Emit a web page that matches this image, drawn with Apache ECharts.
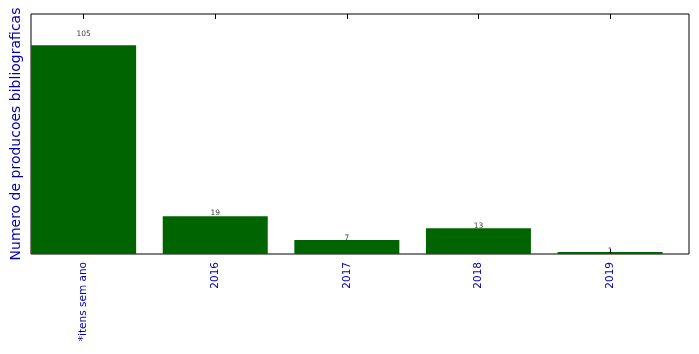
<!DOCTYPE html>
<html>
<head>
<meta charset="utf-8">
<script src="https://cdn.jsdelivr.net/npm/echarts@6/dist/echarts.min.js"></script>
<style>
html,body{margin:0;padding:0;background:#fff;}
#chart{width:699px;height:354px;}
</style>
</head>
<body>
<div id="chart"></div>
<script>
var categories = ['*itens sem ano', '2016', '2017', '2018', '2019'];
var values = [105, 19, 7, 13, 1];
var yTitle = 'Numero de producoes bibliograficas';

var positions = categories.map(function (c, i) { return i; });
var barData = values.map(function (v, i) { return [i, v]; });
var labelData = values.map(function (v, i) { return { value: [i, v * 1.05], raw: v }; });

var blue = '#0000b0';
var chart = echarts.init(document.getElementById('chart'), null, { renderer: 'canvas' });
chart.setOption({
  animation: false,
  textStyle: { fontFamily: 'DejaVu Sans' },
  grid: { left: 31, right: 10, top: 14, bottom: 100, containLabel: false, outerBoundsMode: 'none',
          show: true, borderColor: '#000', borderWidth: 1, backgroundColor: 'transparent' },
  xAxis: [{
    type: 'value', min: -0.4, max: 4.6, position: 'bottom',
    splitLine: { show: false },
    axisLine: { show: false },
    axisTick: { show: true, inside: true, length: 5, customValues: positions, lineStyle: { color: '#000' } },
    axisLabel: {
      show: true, customValues: positions, rotate: 90, margin: 8,
      color: blue, fontSize: 10.5, fontFamily: 'DejaVu Sans',
      formatter: function (v) { return categories[Math.round(v)]; }
    }
  }, {
    type: 'value', min: -0.4, max: 4.6, position: 'top',
    splitLine: { show: false },
    axisLine: { show: false },
    axisTick: { show: true, inside: true, length: 5, customValues: positions, lineStyle: { color: '#000' } },
    axisLabel: { show: false }
  }],
  yAxis: {
    type: 'value', min: 0, max: 105 * 1.15,
    name: yTitle, nameLocation: 'middle', nameGap: 8,
    nameTextStyle: { color: blue, fontSize: 14, fontFamily: 'DejaVu Sans' },
    axisLine: { show: false }, axisTick: { show: false }, axisLabel: { show: false },
    splitLine: { show: false }
  },
  series: [{
    type: 'bar', xAxisIndex: 0, data: barData, barWidth: 105,
    itemStyle: { color: '#006400' }
  }, {
    type: 'scatter', xAxisIndex: 0, data: labelData, symbolSize: 0,
    label: {
      show: true, position: 'top', distance: 0, offset: [0, 3],
      color: '#000', fontSize: 7.5, fontFamily: 'DejaVu Sans',
      formatter: function (p) { return String(p.data.raw); }
    }
  }]
});
</script>
</body>
</html>
